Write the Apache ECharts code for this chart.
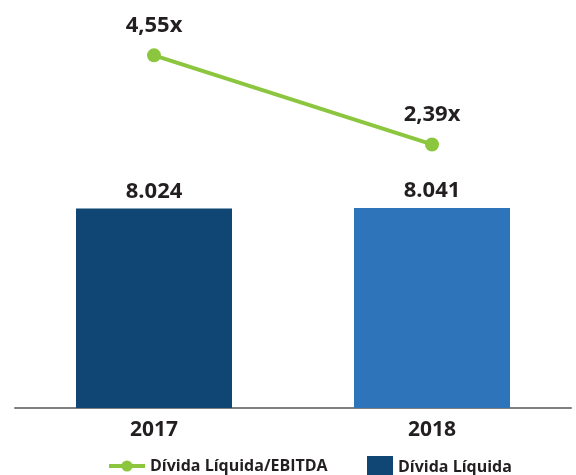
<!DOCTYPE html>
<html>
<head>
<meta charset="utf-8">
<script src="https://cdn.jsdelivr.net/npm/echarts@6/dist/echarts.min.js"></script>
<style>
  html, body { margin: 0; padding: 0; background: #fff; }
  #chart { width: 576px; height: 475px; }
</style>
</head>
<body>
<div id="chart"></div>
<script>
  var years = ['2017', '2018']
  var dividaLiquida = [8024, 8041]
  var alavancagem = [4.55, 2.39]
  var barColors = ['#0f4673', '#2e74bb']

  var font = 'Open Sans'
  var textColor = '#231f20'

  var chart = echarts.init(document.getElementById('chart'))
  chart.setOption({
    animation: false,
    grid: { left: 15, right: 5, top: 10, bottom: 67 },
    legend: [
      {
        data: ['Dívida Líquida/EBITDA'],
        left: 102,
        top: 453,
        itemWidth: 36,
        itemHeight: 14,
        lineStyle: { width: 4 },
        textStyle: { fontFamily: font, fontWeight: 'bold', fontSize: 16, color: textColor }
      },
      {
        data: [{ name: 'Dívida Líquida', icon: 'rect' }],
        left: 362,
        top: 451,
        itemWidth: 26,
        itemHeight: 22,
        textStyle: { fontFamily: font, fontWeight: 'bold', fontSize: 16, color: textColor }
      }
    ],
    xAxis: {
      type: 'category',
      data: years,
      axisTick: { show: false },
      axisLine: { lineStyle: { color: '#7f7f7f', width: 2 } },
      axisLabel: { fontFamily: font, fontWeight: 'bold', fontSize: 21, color: textColor, margin: 12 }
    },
    yAxis: [
      { type: 'value', min: 0, max: 16000, show: false },
      { type: 'value', min: -4, max: 5.65, show: false }
    ],
    series: [
      {
        name: 'Dívida Líquida',
        type: 'bar',
        yAxisIndex: 0,
        barWidth: 156,
        itemStyle: { color: barColors[0] },
        data: dividaLiquida.map(function (v, i) {
          return { value: v, itemStyle: { color: barColors[i] } }
        }),
        label: {
          show: true,
          position: 'top',
          distance: 6,
          fontFamily: font,
          fontWeight: 'bold',
          fontSize: 22,
          color: textColor,
          formatter: function (p) {
            return echarts.format.addCommas(p.value).replace(',', '.')
          }
        }
      },
      {
        name: 'Dívida Líquida/EBITDA',
        type: 'line',
        yAxisIndex: 1,
        data: alavancagem,
        symbol: 'circle',
        symbolSize: 14,
        lineStyle: { color: '#8cc63f', width: 4 },
        itemStyle: { color: '#8cc63f' },
        label: {
          show: true,
          position: 'top',
          distance: 12,
          fontFamily: font,
          fontWeight: 'bold',
          fontSize: 22,
          color: textColor,
          formatter: function (p) {
            return p.value.toFixed(2).replace('.', ',') + 'x'
          }
        }
      }
    ]
  })
</script>
</body>
</html>
